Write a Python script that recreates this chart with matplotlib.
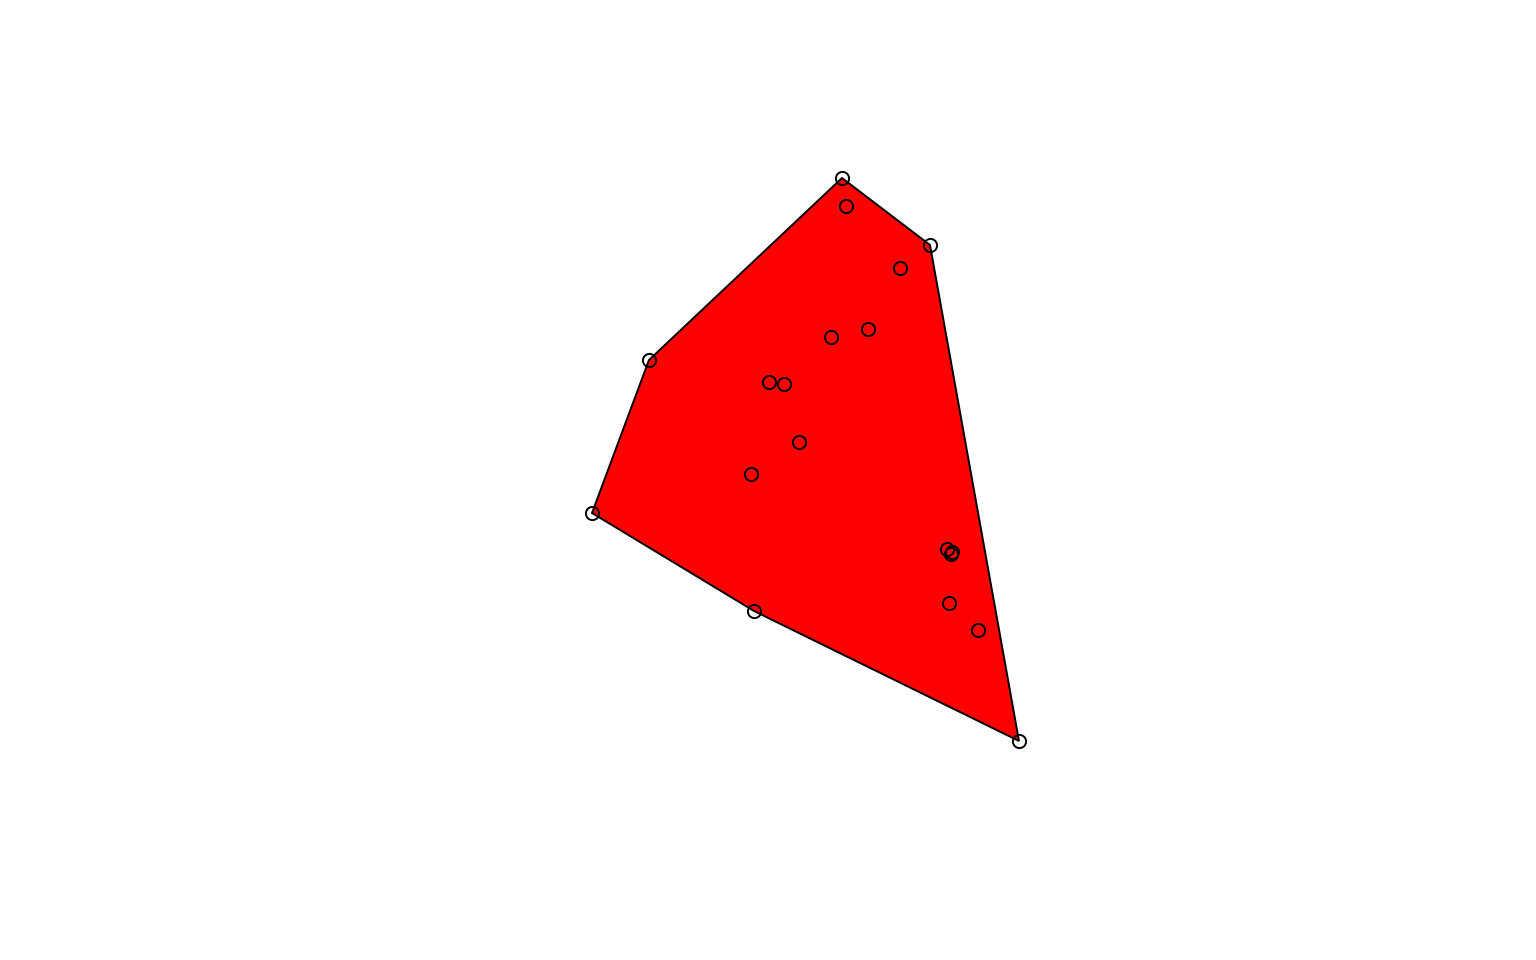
import numpy as np
import matplotlib.pyplot as plt

# point values (arbitrary units)
x = np.array([2.50, 2.54, 3.38, 3.08, 2.76, 2.39, 0.57, 1.77, 1.92, 2.07,
              1.59, 0.00, 3.55, 3.59, 3.60, 3.57, 1.62, 3.86, 4.27])
y = np.array([5.63, 5.35, 4.96, 4.73, 4.12, 4.04, 3.81, 3.59, 3.57, 2.99,
              2.67, 2.28, 1.92, 1.875, 1.89, 1.38, 1.30, 1.11, 0.00])


def convex_hull(px, py):
    pts = sorted(zip(px, py))

    def cross(o, a, b):
        return (a[0] - o[0]) * (b[1] - o[1]) - (a[1] - o[1]) * (b[0] - o[0])

    lower = []
    for p in pts:
        while len(lower) >= 2 and cross(lower[-2], lower[-1], p) <= 0:
            lower.pop()
        lower.append(p)
    upper = []
    for p in reversed(pts):
        while len(upper) >= 2 and cross(upper[-2], upper[-1], p) <= 0:
            upper.pop()
        upper.append(p)
    return np.array(lower[:-1] + upper[:-1])


def main():
    fig = plt.figure(figsize=(15.36, 9.6), dpi=100)
    ax = fig.add_axes([0, 0, 1, 1])
    hull = convex_hull(x, y)
    ax.fill(hull[:, 0], hull[:, 1], facecolor='#ff0000', edgecolor='black', linewidth=1.4)
    ax.plot(x, y, 'o', markerfacecolor='none', markeredgecolor='black',
            markersize=9.5, markeredgewidth=1.4)
    # 1 unit = 100 px, origin at (592, 741) px
    ax.set_xlim(-5.92, 15.36 - 5.92)
    ax.set_ylim(7.41 - 9.6, 7.41)
    ax.axis('off')
    fig.savefig('out.png', dpi=100)


if __name__ == "__main__":
    main()
